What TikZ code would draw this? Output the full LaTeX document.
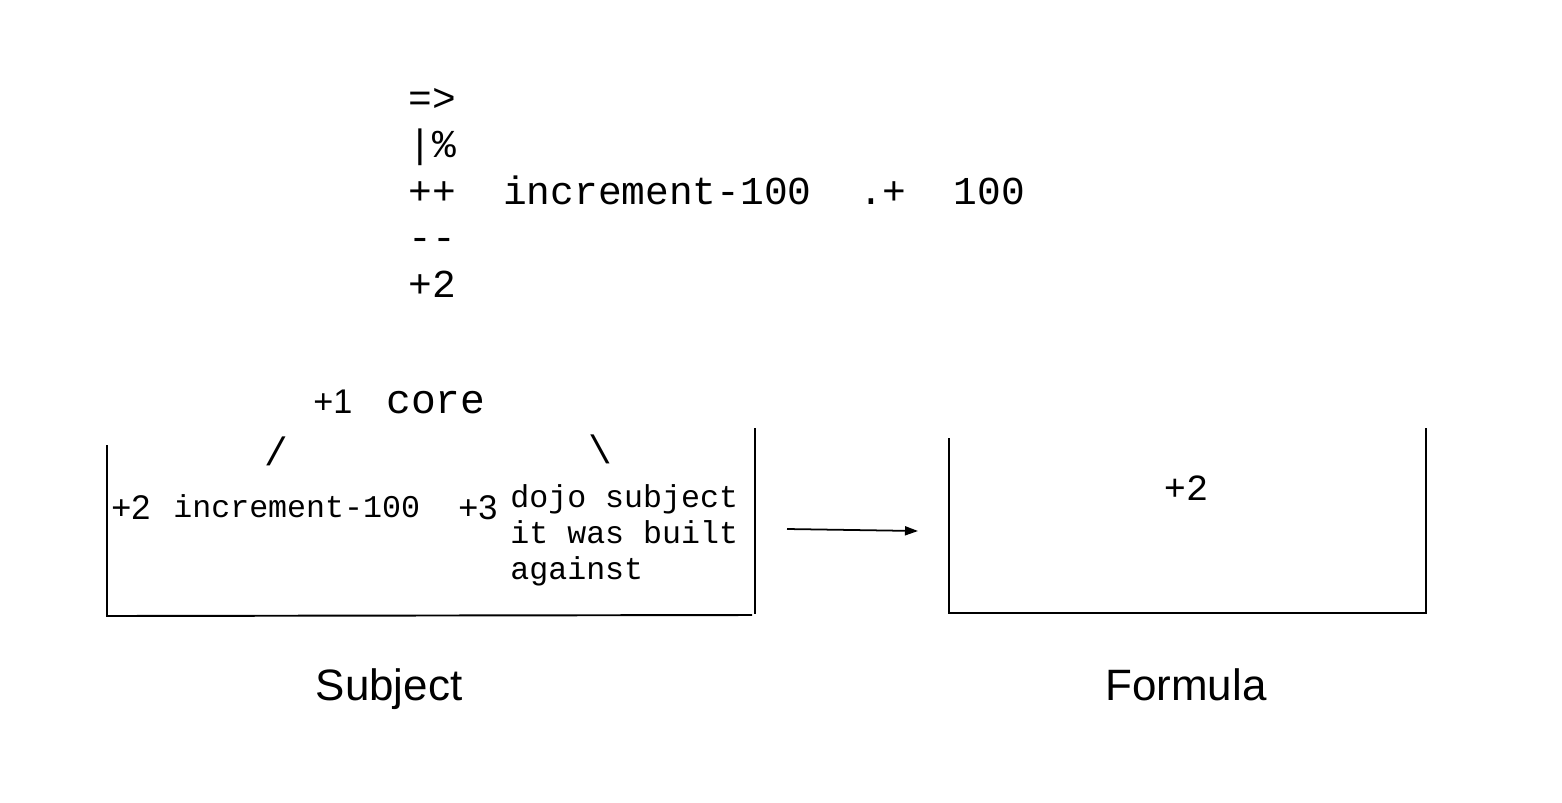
\documentclass[tikz,border=0pt]{standalone}
\usepackage{fontspec}
\setmainfont{Liberation Sans}
\setsansfont{Liberation Sans}
\setmonofont{Liberation Mono}
\usepackage{tikz}
\usetikzlibrary{positioning,arrows.meta}

\begin{document}
\begin{tikzpicture}[x=0.02cm, y=-0.02cm,
					codebig/.style={
						font=\ttfamily\fontsize{22.5}{27}\selectfont,
						inner sep=0pt, anchor=base west
					},
					codesmall/.style={
						font=\ttfamily\fontsize{18}{22}\selectfont,
						inner sep=0pt, anchor=base west
					},
					tag/.style={
						font=\sffamily\fontsize{19.5}{23}\selectfont,
						inner sep=0pt, anchor=base west
					},
					caption/.style={
						font=\sffamily\fontsize{25}{30}\selectfont,
						inner sep=0pt, anchor=base
					},
					wall/.style={draw=black, line width=1.1pt}
					]
					\useasboundingbox (0,0) rectangle (1562,802);
					
					% operator column at the top
					\node[codebig] (arrowop) at (408,111)   {=>};
					\node[codebig] (pipeop)  at (408,157.5) {|\%};
					\node[codebig] (incline) at (408,204)   {++~~increment-100~~.+~~100};
					\node[codebig] (decop)   at (408,250.5) {--};
					\node[codebig] (plustwo) at (408,297)   {+2};
					
					% the tree inside the subject
					\node[tag]     (one)   at (313,413) {+1};
					\node[codebig, font=\ttfamily\fontsize{23.5}{28}\selectfont] (core) at (386,413) {core};
					\node[codebig, anchor=center] (lslash) at (276,451) {/};
					\node[codebig, anchor=center] (rslash) at (600,449) {\textbackslash};
					\node[tag]       (two)   at (111,519) {+2};
					\node[codesmall] (incr)  at (173,517) {increment-100};
					\node[tag]       (three) at (458,519) {+3};
					\node[codesmall] (dojoa) at (510,507) {dojo subject};
					\node[codesmall] (dojob) at (510,543) {it was built};
					\node[codesmall] (dojoc) at (510,579) {against};
					
					% subject box, open at the top
					\draw[wall] (107,445) -- (107,616) -- (752,615);
					\draw[wall] (755,428) -- (755,614);
					
					% formula box, open at the top
					\draw[wall] (949,438) -- (949,613) -- (1426,613) -- (1426,428);
					\node[codebig, anchor=base, font=\ttfamily\fontsize{21}{25}\selectfont] (result) at (1186,500) {+2};
					
					% arrow between them
					\coordinate (arrowfrom) at (787,529);
					\coordinate (arrowto)   at (918,531);
					\draw[line width=1pt, -{Triangle[length=0.26cm, width=0.18cm]}] (arrowfrom) -- (arrowto);
					
					% captions
					\node[caption] (subject) at (389,700)  {Subject};
					\node[caption] (formula) at (1186,700) {Formula};
				\end{tikzpicture}
\end{document}
